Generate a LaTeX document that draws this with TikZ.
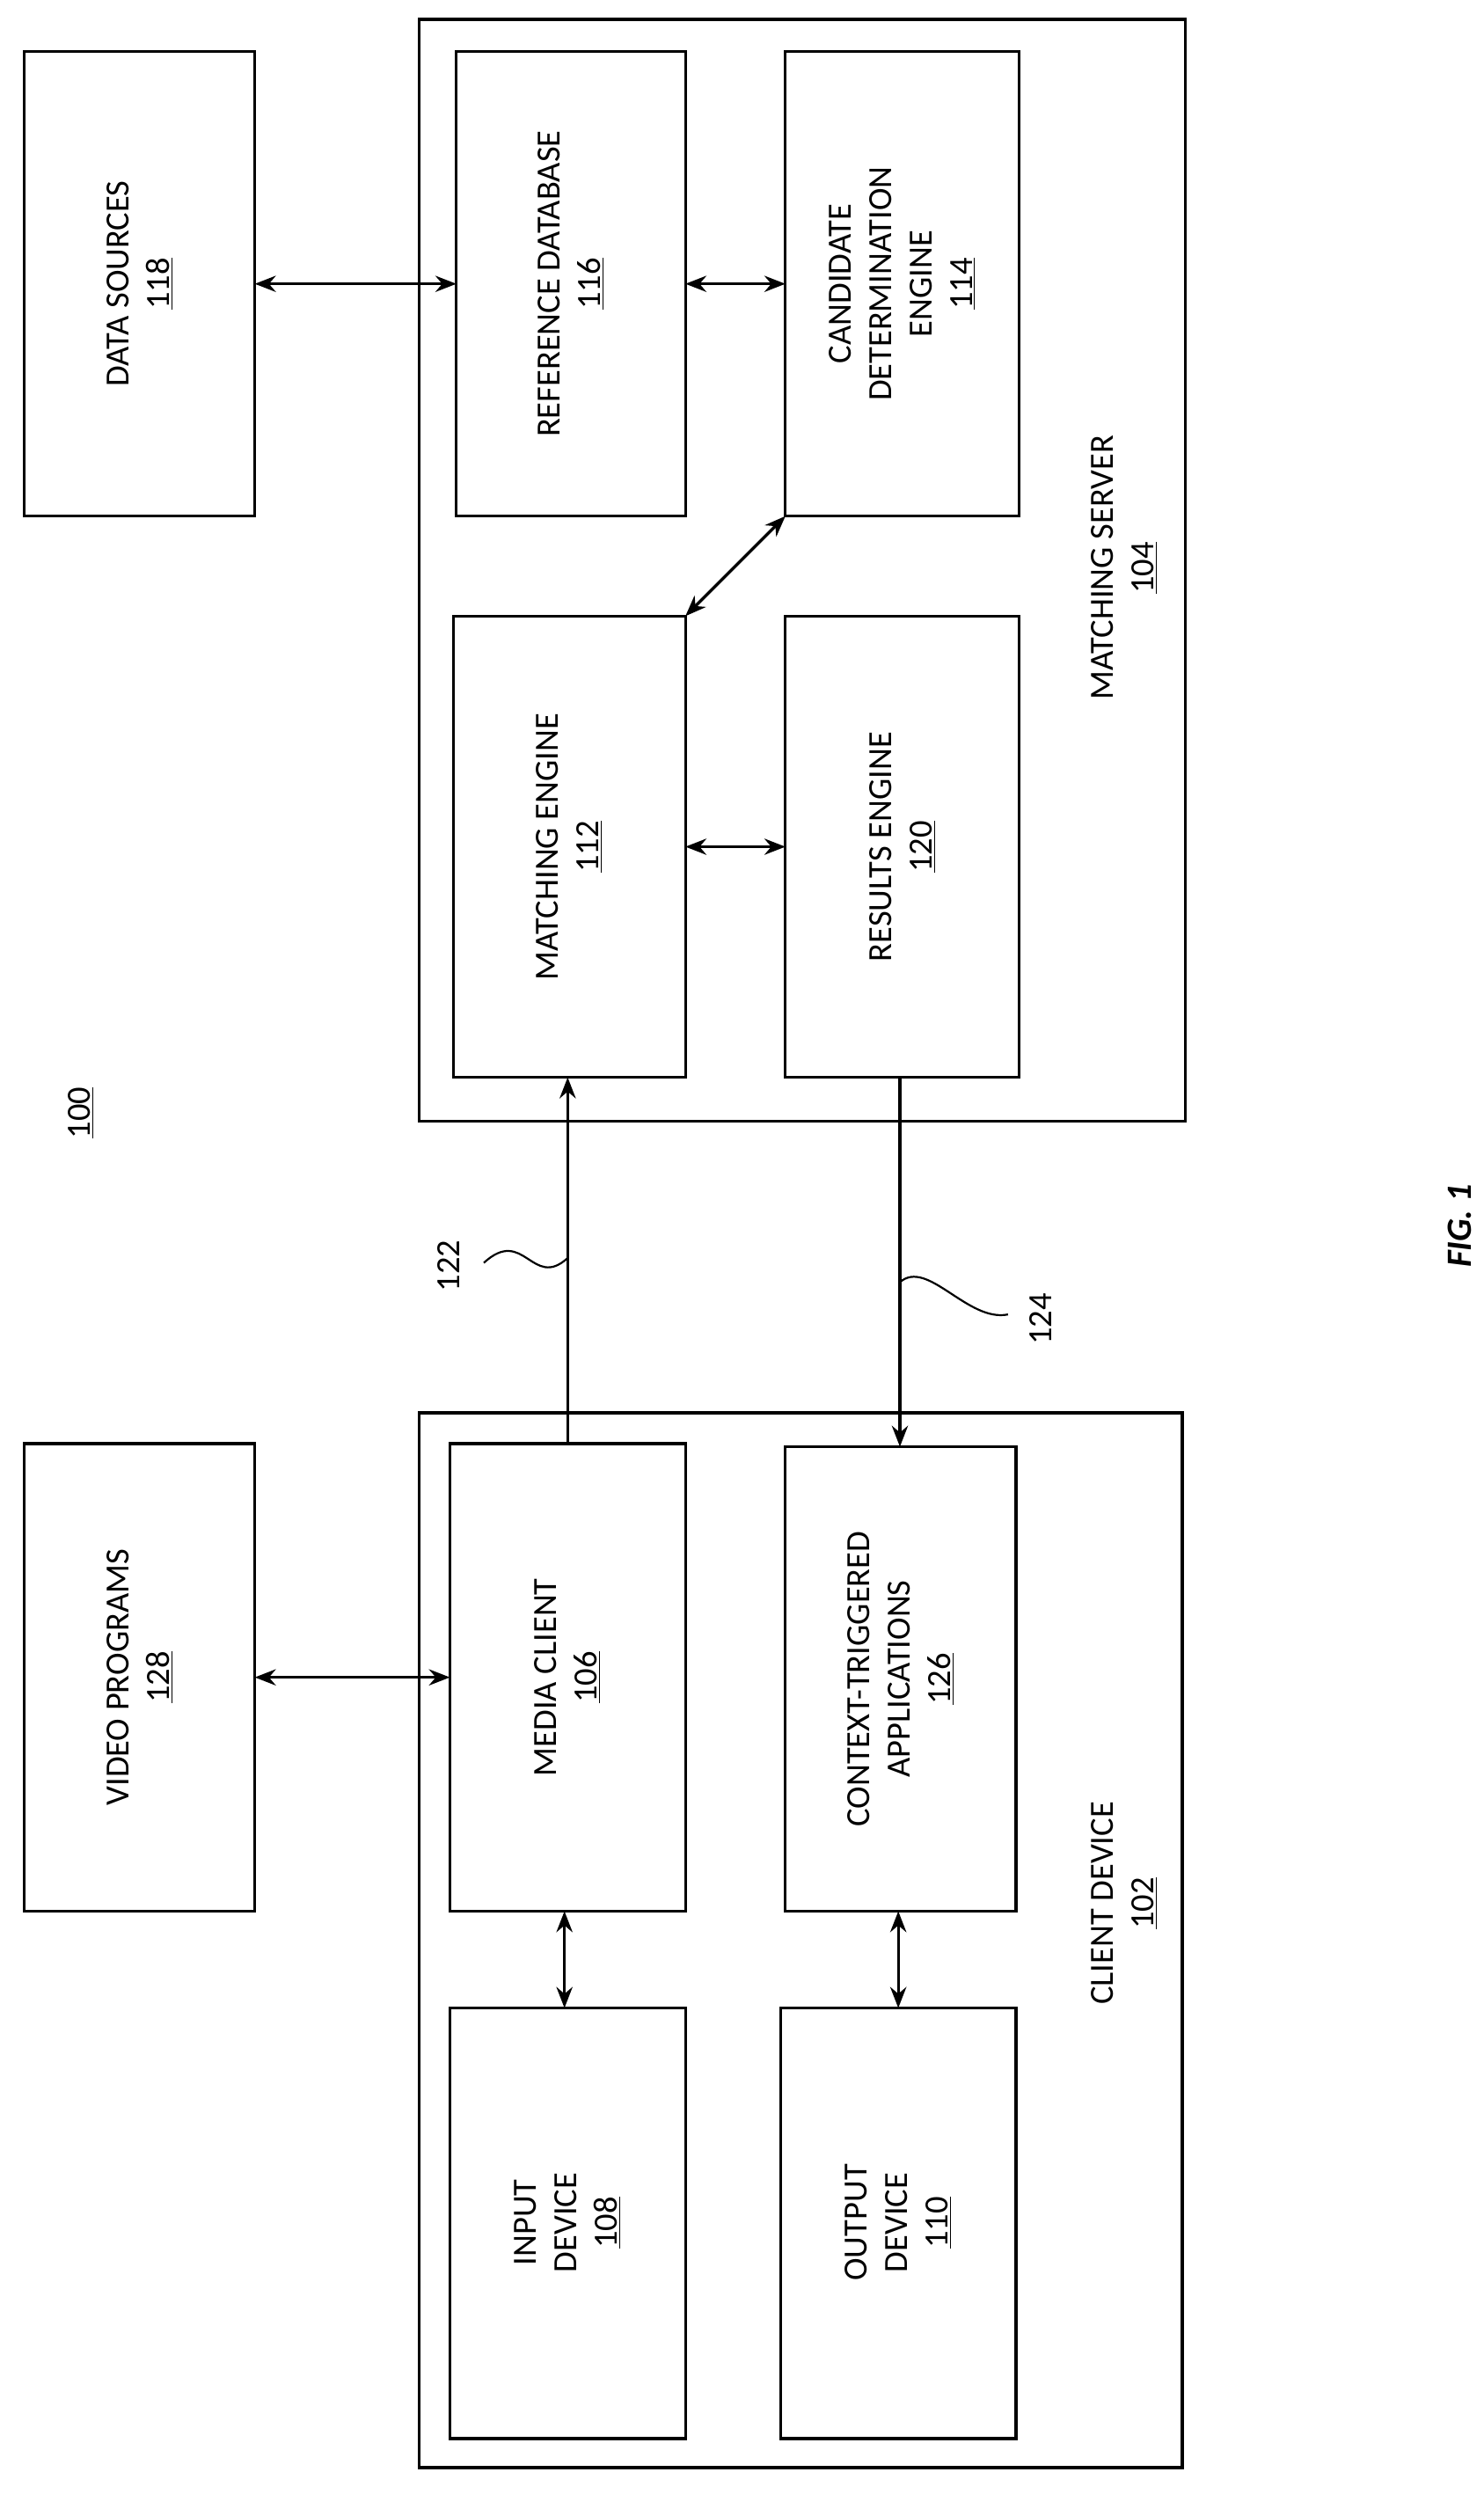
\documentclass[tikz,border=0pt]{standalone}
\usepackage{fontspec}
\setmainfont{Carlito}
\usetikzlibrary{arrows.meta}
\begin{document}
\begin{tikzpicture}[x=1pt,y=-1pt,
  box/.style={draw,line width=1.8pt},
  lbl/.style={rotate=90,align=center,font=\fontsize{21}{25}\selectfont},
  arr/.style={line width=1.8pt,{Stealth[length=13pt,width=10pt]}-{Stealth[length=13pt,width=10pt]}},
  one/.style={line width=1.8pt,-{Stealth[length=13pt,width=10pt]}}]
\useasboundingbox (0,0) rectangle (920,1560);
% server
\draw[box] (260,12) rectangle (735,695);
\draw[box] (15,32) rectangle (158,320);
\node[lbl] (ds) at (86.5,176) {DATA SOURCES\\\underline{118}};
\draw[box] (283,32) rectangle (425,320);
\node[lbl] (rd) at (354,176) {REFERENCE DATABASE\\\underline{116}};
\draw[box] (487,32) rectangle (632,320);
\node[lbl] (cd) at (559.5,176) {CANDIDATE\\DETERMINATION\\ENGINE\\\underline{114}};
\draw[box] (281,382) rectangle (425,668);
\node[lbl] (me) at (353,525) {MATCHING ENGINE\\\underline{112}};
\draw[box] (487,382) rectangle (632,668);
\node[lbl] (re) at (559.5,525) {RESULTS ENGINE\\\underline{120}};
\node[lbl] (ms) at (697,352) {MATCHING SERVER\\\underline{104}};
\node[lbl] (n100) at (50,690) {\underline{100}};
% client
\draw[box] (260,876) rectangle (733,1530);
\draw[box] (15,895) rectangle (158,1185);
\node[lbl] (vp) at (86.5,1040) {VIDEO PROGRAMS\\\underline{128}};
\draw[box] (279,895) rectangle (425,1185);
\node[lbl] (mc) at (352,1040) {MEDIA CLIENT\\\underline{106}};
\draw[box] (487,897) rectangle (630,1185);
\node[lbl] (ct) at (558.5,1041) {CONTEXT-TRIGGERED\\APPLICATIONS\\\underline{126}};
\draw[box] (279,1245) rectangle (425,1512);
\node[lbl] (id) at (352,1378) {INPUT\\DEVICE\\\underline{108}};
\draw[box] (484,1245) rectangle (630,1512);
\node[lbl] (od) at (557,1378) {OUTPUT\\DEVICE\\\underline{110}};
\node[lbl] (cdv) at (697,1180) {CLIENT DEVICE\\\underline{102}};
\node[rotate=90,font=\fontsize{22}{26}\selectfont\bfseries\itshape] (fig) at (905,760) {FIG. 1};
% connectors
\coordinate (a1) at (158,176); \coordinate (a2) at (283,176);
\draw[arr] (a1) -- (a2);
\coordinate (b1) at (425,176); \coordinate (b2) at (487,176);
\draw[arr] (b1) -- (b2);
\coordinate (c1) at (487,320); \coordinate (c2) at (425,382);
\draw[arr] (c1) -- (c2);
\coordinate (d1) at (425,525); \coordinate (d2) at (487,525);
\draw[arr] (d1) -- (d2);
\coordinate (e1) at (352,895); \coordinate (e2) at (352,668);
\draw[one] (e1) -- (e2);
\coordinate (f1) at (558,668); \coordinate (f2) at (558,897);
\draw[one] (f1) -- (f2);
\coordinate (g1) at (158,1040); \coordinate (g2) at (279,1040);
\draw[arr] (g1) -- (g2);
\coordinate (h1) at (350,1185); \coordinate (h2) at (350,1245);
\draw[arr] (h1) -- (h2);
\coordinate (i1) at (557,1185); \coordinate (i2) at (557,1245);
\draw[arr] (i1) -- (i2);
% labels
\node[lbl] (l122) at (278,785) {122};
\coordinate (s1) at (300,783); \coordinate (s2) at (352,780);
\draw[line width=1.2pt] (s1) .. controls (325,760) and (330,800) .. (s2);
\node[lbl] (l124) at (645,818) {124};
\coordinate (t1) at (558,795); \coordinate (t2) at (625,815);
\draw[line width=1.2pt] (t1) .. controls (575,780) and (600,820) .. (t2);
\end{tikzpicture}
\end{document}
